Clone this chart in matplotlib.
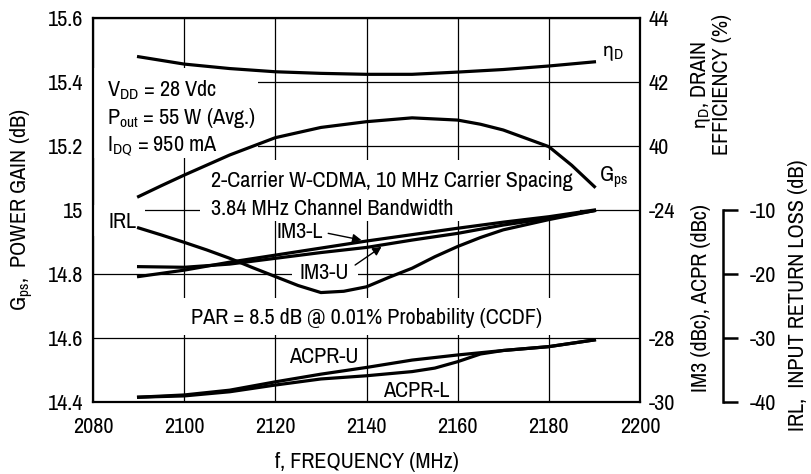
import matplotlib
matplotlib.use('Agg')
import matplotlib.pyplot as plt
from matplotlib.patches import Rectangle

plt.rcParams['font.family'] = ['Archivo Narrow', 'Liberation Sans', 'DejaVu Sans']
plt.rcParams['mathtext.default'] = 'regular'
plt.rcParams['axes.unicode_minus'] = False

# power gain (dB)
gps_freq = [2090, 2095, 2100, 2110, 2120, 2130, 2140, 2150, 2160, 2165, 2170, 2175, 2180, 2185, 2190]
gps = [15.042, 15.076, 15.109, 15.172, 15.226, 15.258, 15.276, 15.288, 15.281, 15.268,
       15.250, 15.224, 15.198, 15.140, 15.073]

# drain efficiency (%)
eff_freq = [2090, 2100, 2110, 2120, 2130, 2140, 2150, 2160, 2170, 2180, 2190]
eff = [42.79, 42.56, 42.42, 42.32, 42.27, 42.24, 42.24, 42.31, 42.39, 42.50, 42.63]

# input return loss (dB)
irl_freq = [2090, 2095, 2100, 2105, 2110, 2115, 2120, 2125, 2130, 2135, 2140, 2145,
            2150, 2155, 2160, 2165, 2170, 2180, 2190]
irl = [-12.8, -13.9, -15.05, -16.25, -17.55, -19.0, -20.4, -21.8, -22.9, -22.7, -22.0, -20.5,
       -19.1, -17.3, -15.7, -14.3, -13.1, -11.5, -10.1]

# IM3 (dBc)
im3_freq = [2090, 2100, 2110, 2120, 2130, 2140, 2150, 2160, 2170, 2180, 2190]
im3_l = [-26.08, -25.88, -25.63, -25.41, -25.19, -24.97, -24.77, -24.57, -24.38, -24.21, -24.0]
im3_u = [-25.77, -25.79, -25.69, -25.51, -25.33, -25.17, -24.94, -24.73, -24.47, -24.26, -24.02]

# ACPR (dBc)
acpr_u_freq = [2090, 2100, 2110, 2120, 2130, 2140, 2150, 2160, 2170, 2180, 2190]
acpr_u = [-29.85, -29.78, -29.63, -29.37, -29.13, -28.92, -28.69, -28.53, -28.39, -28.27, -28.06]
acpr_l_freq = [2090, 2100, 2110, 2120, 2130, 2140, 2150, 2155, 2160, 2165, 2170, 2180, 2190]
acpr_l = [-29.85, -29.81, -29.68, -29.47, -29.28, -29.18, -29.05, -28.94, -28.74, -28.50,
          -28.39, -28.27, -28.06]

x_ticks = [2080, 2100, 2120, 2140, 2160, 2180, 2200]
gps_ticks = [14.4, 14.6, 14.8, 15.0, 15.2, 15.4, 15.6]
gps_labels = ['14.4', '14.6', '14.8', '15', '15.2', '15.4', '15.6']
eff_ticks = [40, 42, 44]
dbc_ticks = [-30, -28, -26, -24]
dbc_labels = ['-30', '-28', '', '-24']
irl_ticks = [-40, -30, -20, -10]

fs = 16
lw = 2.3

fig = plt.figure(figsize=(8.12, 4.74), dpi=100)
ax = fig.add_axes([93 / 812, 1 - 402 / 474, 547 / 812, 384 / 474])
ax.set_xlim(2080, 2200)
ax.set_ylim(14.4, 15.6)
ax.set_xticks(x_ticks)
ax.set_yticks(gps_ticks)
ax.set_yticklabels(gps_labels)
ax.tick_params(axis='both', length=0, labelsize=fs)
ax.tick_params(axis='x', pad=11)
ax.tick_params(axis='y', pad=7)
ax.grid(True, color='black', lw=0.9)
for s in ax.spines.values():
    s.set_linewidth(1.6)

# white patches behind the notes (grid gaps)
def px_box(x0, y0, x1, y1):
    return Rectangle(((x0 - 93) / 547, (402 - y1) / 384), (x1 - x0) / 547, (y1 - y0) / 384,
                     transform=ax.transAxes, facecolor='white', edgecolor='none', zorder=2)

for b in [(93, 68, 258, 158), (200, 160, 580, 221), (93, 205, 145, 236),
          (292, 262, 358, 288), (175, 298, 560, 335)]:
    ax.add_patch(px_box(*b))

ax.plot(gps_freq, gps, color='black', lw=lw, zorder=3)

ax_eff = ax.twinx()
ax_eff.set_ylim(32, 44)
ax_eff.set_yticks(eff_ticks)
ax_eff.plot(eff_freq, eff, color='black', lw=lw)

ax_dbc = ax.twinx()
ax_dbc.set_ylim(-30, -18)
ax_dbc.set_yticks(dbc_ticks)
ax_dbc.set_yticklabels(dbc_labels)
ax_dbc.plot(im3_freq, im3_l, color='black', lw=lw)
ax_dbc.plot(im3_freq, im3_u, color='black', lw=lw)
ax_dbc.plot(acpr_u_freq, acpr_u, color='black', lw=lw)
ax_dbc.plot(acpr_l_freq, acpr_l, color='black', lw=lw)

for a in (ax_eff, ax_dbc):
    a.tick_params(axis='y', length=0, labelsize=fs, pad=6)
    for s in a.spines.values():
        s.set_visible(False)

ax_irl = ax.twinx()
ax_irl.set_ylim(-40, 20)
ax_irl.set_yticks(irl_ticks)
for s in ax_irl.spines.values():
    s.set_visible(False)
ax_irl.spines['right'].set_visible(True)
ax_irl.spines['right'].set_position(('axes', (723 - 93) / 547))
ax_irl.spines['right'].set_bounds(-40, -10)
ax_irl.spines['right'].set_linewidth(1.8)
ax_irl.tick_params(axis='y', direction='out', length=11, width=1.8, labelsize=fs, pad=8)
ax_irl.plot(irl_freq, irl, color='black', lw=lw)

# notes
ax.text(2083.1, 15.354, r'V$_{DD}$ = 28 Vdc', fontsize=fs, zorder=4)
ax.text(2083.1, 15.269, r'P$_{out}$ = 55 W (Avg.)', fontsize=fs, zorder=4)
ax.text(2083.1, 15.185, r'I$_{DQ}$ = 950 mA', fontsize=fs, zorder=4)
ax.text(2105.9, 15.073, '2-Carrier W-CDMA, 10 MHz Carrier Spacing', fontsize=fs, zorder=4)
ax.text(2105.9, 14.984, '3.84 MHz Channel Bandwidth', fontsize=fs, zorder=4)
ax.text(2083.3, 14.943, 'IRL', fontsize=fs, zorder=4)
ax.text(2120.3, 14.912, 'IM3-L', fontsize=fs, zorder=4)
ax.text(2125.4, 14.784, 'IM3-U', fontsize=fs, zorder=4)
ax.text(2101.5, 14.644, 'PAR = 8.5 dB @ 0.01% Probability (CCDF)', fontsize=fs, zorder=4)
ax.text(2123.0, 14.521, 'ACPR-U', fontsize=fs, zorder=4)
ax.text(2143.7, 14.417, 'ACPR-L', fontsize=fs, zorder=4)
ax.text(2191.6, 15.48, r'$\eta_D$', fontsize=fs, zorder=4)
ax.text(2190.9, 15.088, r'G$_{ps}$', fontsize=fs, zorder=4)

arrow = dict(arrowstyle='-|>', color='black', lw=1.0, mutation_scale=13, shrinkA=0, shrinkB=0)
ax.annotate('', xy=(2138.9, 14.906), xytext=(2131.6, 14.927), arrowprops=arrow, zorder=4)
ax.annotate('', xy=(2143.3, 14.885), xytext=(2137.5, 14.828), arrowprops=arrow, zorder=4)

# axis titles
ax.text(-0.13, 0.5, r'G$_{ps}$,  POWER GAIN (dB)', transform=ax.transAxes, rotation=90,
        ha='center', va='center', fontsize=fs)
ax.text(0.5, -0.156, 'f, FREQUENCY (MHz)', transform=ax.transAxes,
        ha='center', va='center', fontsize=fs)
ax.text(1.13, 0.826, '$\\eta_D$, DRAIN\nEFFICIENCY (%)', transform=ax.transAxes, rotation=90,
        ha='center', va='center', fontsize=fs, linespacing=0.95)
ax.text(1.1115, 0.271, 'IM3 (dBc), ACPR (dBc)', transform=ax.transAxes, rotation=90,
        ha='center', va='center', fontsize=fs)
ax.text(1.289, 0.279, 'IRL,  INPUT RETURN LOSS (dB)', transform=ax.transAxes, rotation=90,
        ha='center', va='center', fontsize=fs)

fig.savefig('out.png', dpi=100)
